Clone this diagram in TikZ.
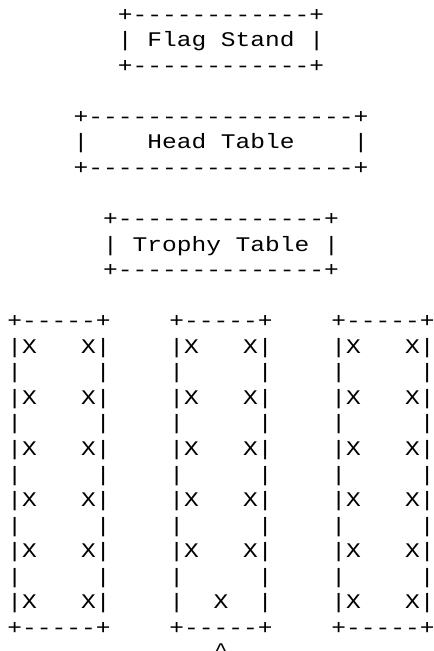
\documentclass[tikz,border=0pt]{standalone}
\usepackage{fontspec}
\setmonofont[FakeStretch=1.18]{Liberation Mono}

\begin{document}
\begin{tikzpicture}[x=0.75pt, y=-0.75pt,
  row/.style={font=\ttfamily\fontsize{15.6pt}{19pt}\selectfont, anchor=base, inner sep=0pt}]
  \def\midx{221}   % centre of every line
  \def\top{21}     % baseline of the first line
  \def\pitch{25.56}

  \useasboundingbox (0,0) rectangle (433,651);

  % Flag stand
  \node[row] (flagtop) at (\midx, \top) {+------------+};
  \node[row] (flag)    at (\midx, {\top+\pitch}) {|~Flag~Stand~|};
  \node[row] (flagbot) at (\midx, {\top+2*\pitch}) {+------------+};

  % Head table
  \node[row] (headtop) at (\midx, {\top+4*\pitch}) {+------------------+};
  \node[row] (head)    at (\midx, {\top+5*\pitch}) {|~~~~Head~Table~~~~|};
  \node[row] (headbot) at (\midx, {\top+6*\pitch}) {+------------------+};

  % Trophy table
  \node[row] (trophytop) at (\midx, {\top+8*\pitch}) {+--------------+};
  \node[row] (trophy)    at (\midx, {\top+9*\pitch}) {|~Trophy~Table~|};
  \node[row] (trophybot) at (\midx, {\top+10*\pitch}) {+--------------+};

  % Three rows of seats
  \node[row] (seatstop) at (\midx, {\top+12*\pitch}) {+-----+~~~~+-----+~~~~+-----+};
  \foreach \i in {13,15,17,19,21}
    \node[row] (seats\i) at (\midx, {\top+\i*\pitch}) {|X~~~X|~~~~|X~~~X|~~~~|X~~~X|};
  \foreach \i in {14,16,18,20,22}
    \node[row] (gap\i) at (\midx, {\top+\i*\pitch}) {|~~~~~|~~~~|~~~~~|~~~~|~~~~~|};
  \node[row] (seatslast) at (\midx, {\top+23*\pitch}) {|X~~~X|~~~~|~~X~~|~~~~|X~~~X|};
  \node[row] (seatsbot)  at (\midx, {\top+24*\pitch}) {+-----+~~~~+-----+~~~~+-----+};

  % Entrance mark, at the lower edge as in the plan
  \node[row] (entry) at (\midx, {\top+25*\pitch-3}) {\textasciicircum};
\end{tikzpicture}
\end{document}
